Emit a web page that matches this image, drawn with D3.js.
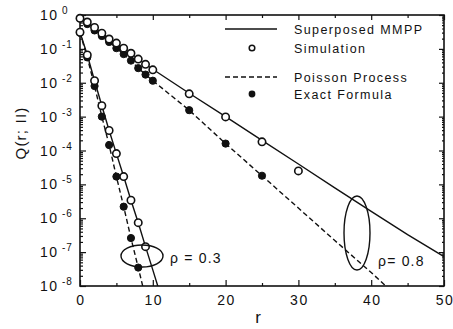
<!DOCTYPE html>
<html><head><meta charset="utf-8">
<script src="https://cdn.jsdelivr.net/npm/d3@7"></script>
<style>body{margin:0;background:#fff}svg{display:block}text{font-family:"Liberation Sans",Arial,sans-serif;fill:#111}</style>
</head><body><svg id="c" width="453" height="329"></svg>
<script>
// ---- data ----
// rho = 0.8
const sim08R = [0,1,2,3,4,5,6,7,8,9,10,15,20,25,30];
const sim08Q = [0.8,0.62,0.43,0.29,0.195,0.148,0.105,0.074,0.05,0.035,0.024,4.7e-3,9.8e-4,1.8e-4,2.5e-5];
const mmpp08R = [0,1,2,3,4,5,6,7,8,9,10,15,20,25,30,35,40,45,50];
const mmpp08Q = [0.88,0.6,0.42,0.29,0.2,0.145,0.103,0.073,0.051,0.035,0.025,4.9e-3,1.0e-3,2.0e-4,4.0e-5,7.9e-6,1.6e-6,3.3e-7,7.4e-8];
const exact08R = [0,1,2,3,4,5,6,7,8,9,10,15,20,25];
const exact08Q = [0.8,0.54,0.35,0.24,0.16,0.105,0.07,0.045,0.027,0.0174,0.0115,1.55e-3,1.6e-4,1.8e-5];
const pois08R = [0,1,2,3,4,5,6,7,8,9,10,15,20,25,30,35,40,42.5];
const pois08Q = [0.8,0.54,0.35,0.24,0.16,0.105,0.07,0.045,0.027,0.0174,0.0115,1.55e-3,1.6e-4,1.8e-5,2.0e-6,2.2e-7,2.5e-8,8e-9];
// rho = 0.3
const sim03R = [0,1,2,3,4,5,6,7,8,9];
const sim03Q = [0.31,0.066,0.0115,2.1e-3,3.9e-4,8.1e-5,1.7e-5,3.4e-6,7.4e-7,1.45e-7];
const mmpp03R = [0,1,2,3,4,5,6,7,8,9,10,11];
const mmpp03Q = [0.31,0.066,0.0115,2.1e-3,3.9e-4,8.1e-5,1.7e-5,3.4e-6,7.4e-7,1.45e-7,3.0e-8,6e-9];
const exact03R = [0,1,2,3,4,5,6,7,8];
const exact03Q = [0.3,0.056,8e-3,1.0e-3,1.45e-4,1.7e-5,2.2e-6,2.6e-7,3.5e-8];
const pois03R = [0,1,2,3,4,5,6,7,8,9];
const pois03Q = [0.3,0.056,8e-3,1.0e-3,1.45e-4,1.7e-5,2.2e-6,2.6e-7,3.5e-8,4.5e-9];
// ticks / labels
const xTickLabels = [0,10,20,30,40,50];
const xMinorTicks = [5,15,25,35,45];
const yExponents = [0,-1,-2,-3,-4,-5,-6,-7,-8];
const legendLabels = ["Superposed MMPP","Simulation","Poisson Process","Exact Formula"];
const rhoLabels = ["ρ = 0.3","ρ= 0.8"];

// ---- chart ----
const svg = d3.select("#c");
const L=80,R=444,T=15,B=286;
const x = d3.scaleLinear().domain([0,50]).range([L,R]);
const y = d3.scaleLog().domain([1e-8,1]).range([B,T]);

svg.append("clipPath").attr("id","clip").append("rect").attr("x",L).attr("y",T).attr("width",R-L).attr("height",B-T);

const yMinor = [];
yExponents.forEach(e=>{ if(e<0) for(let k=2;k<=9;k++) yMinor.push(k*Math.pow(10,e)); });
const yMajor = yExponents.map(e=>Math.pow(10,e));

function ax(g, axis){ g.call(axis); g.select(".domain").remove(); g.selectAll("line").attr("stroke","#111").attr("stroke-width",1.2); g.selectAll("text").remove(); }
svg.append("g").attr("transform",`translate(${L},0)`).call(g=>ax(g,d3.axisLeft(y).tickValues(yMinor).tickSize(-3)));
svg.append("g").attr("transform",`translate(${L},0)`).call(g=>ax(g,d3.axisLeft(y).tickValues(yMajor).tickSize(-6)));
svg.append("g").attr("transform",`translate(${R},0)`).call(g=>ax(g,d3.axisRight(y).tickValues(yMajor).tickSize(-5)));
svg.append("g").attr("transform",`translate(${R},0)`).call(g=>ax(g,d3.axisRight(y).tickValues(yMinor).tickSize(-2)));
svg.append("g").attr("transform",`translate(0,${B})`).call(g=>ax(g,d3.axisBottom(x).tickValues(xTickLabels).tickSize(-6)));
svg.append("g").attr("transform",`translate(0,${B})`).call(g=>ax(g,d3.axisBottom(x).tickValues(xMinorTicks).tickSize(-3)));
svg.append("g").attr("transform",`translate(0,${T})`).call(g=>ax(g,d3.axisTop(x).tickValues(xTickLabels).tickSize(-5)));
svg.append("g").attr("transform",`translate(0,${T})`).call(g=>ax(g,d3.axisTop(x).tickValues(xMinorTicks).tickSize(-3)));

svg.append("rect").attr("x",L).attr("y",T).attr("width",R-L).attr("height",B-T)
  .attr("fill","none").attr("stroke","#111").attr("stroke-width",1.6);

// tick labels
yExponents.forEach(e=>{
  const t = svg.append("text").attr("x",40).attr("y",y(Math.pow(10,e))+5).attr("font-size",14).attr("letter-spacing",1.5);
  t.append("tspan").text("10");
  t.append("tspan").attr("x",62).attr("dy",-6).attr("font-size",10).attr("letter-spacing",1).text(e===0?"0":"-"+(-e));
});
xTickLabels.forEach(v=>{
  svg.append("text").attr("x",x(v)+1).attr("y",305).attr("text-anchor","middle").attr("font-size",14).attr("letter-spacing",1.5).text(v);
});
svg.append("text").attr("x",258).attr("y",323).attr("text-anchor","middle").attr("font-size",17).text("r");
svg.append("text").attr("transform","translate(26,133) rotate(-90)").attr("text-anchor","middle").attr("font-size",15).attr("letter-spacing",1.2).text("Q(r; II)");

// lines
const line = d3.line().x(d=>x(d[0])).y(d=>y(d[1]));
const plot = svg.append("g").attr("clip-path","url(#clip)");
function drawLine(R_,Q_,dash){
  plot.append("path").datum(R_.map((r,i)=>[r,Q_[i]])).attr("d",line).attr("fill","none")
    .attr("stroke","#111").attr("stroke-width",1.4).attr("stroke-dasharray",dash?"5,3":null);
}
drawLine(mmpp08R,mmpp08Q,false);
drawLine(pois08R,pois08Q,true);
drawLine(mmpp03R,mmpp03Q,false);
drawLine(pois03R,pois03Q,true);

function dots(R_,Q_,filled){
  svg.append("g").selectAll("circle").data(R_.map((r,i)=>[r,Q_[i]])).join("circle")
    .attr("cx",d=>x(d[0])).attr("cy",d=>y(d[1])).attr("r",filled?3.6:3.7)
    .attr("fill",filled?"#111":"#fff").attr("stroke","#111").attr("stroke-width",filled?1:1.6);
}
dots(exact08R,exact08Q,true);
dots(exact03R,exact03Q,true);
dots(sim08R,sim08Q,false);
dots(sim03R,sim03Q,false);

// ellipses + rho labels
svg.append("ellipse").attr("cx",142).attr("cy",256).attr("rx",21).attr("ry",11).attr("fill","none").attr("stroke","#111").attr("stroke-width",1.4);
svg.append("ellipse").attr("cx",357).attr("cy",233).attr("rx",13).attr("ry",37).attr("fill","none").attr("stroke","#111").attr("stroke-width",1.4);
svg.append("text").attr("x",170).attr("y",263).attr("font-size",14).attr("letter-spacing",1.2).text(rhoLabels[0]);
svg.append("text").attr("x",378).attr("y",266).attr("font-size",14).attr("letter-spacing",1.2).text(rhoLabels[1]);

// legend
const lg = svg.append("g");
lg.append("line").attr("x1",225).attr("x2",277).attr("y1",29).attr("y2",29).attr("stroke","#111").attr("stroke-width",1.4);
lg.append("circle").attr("cx",252).attr("cy",48).attr("r",2.8).attr("fill","#fff").attr("stroke","#111").attr("stroke-width",1.5);
lg.append("line").attr("x1",225).attr("x2",277).attr("y1",77).attr("y2",77).attr("stroke","#111").attr("stroke-width",1.4).attr("stroke-dasharray","5,3");
lg.append("circle").attr("cx",252).attr("cy",94).attr("r",3.4).attr("fill","#111");
[29,48,77,94].forEach((yy,i)=>{
  lg.append("text").attr("x",294).attr("y",yy+4.5).attr("font-size",12.5).attr("letter-spacing",1.4).text(legendLabels[i]);
});
</script></body></html>
